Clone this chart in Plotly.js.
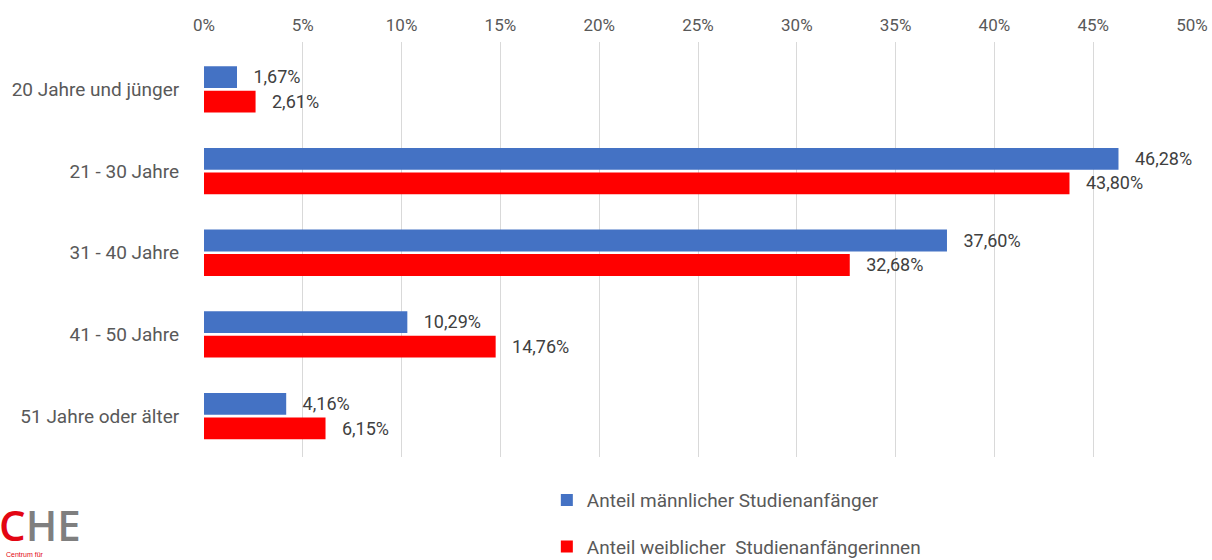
<!DOCTYPE html>
<html>
<head>
<meta charset="utf-8">
<script src="https://cdn.plot.ly/plotly-3.0.1.min.js"></script>
<style>html,body{margin:0;padding:0;background:#fff;}</style>
</head>
<body>
<div id="chart" style="width:1212px;height:560px;"></div>
<script>
const categories = ["20 Jahre und jünger", "21 - 30 Jahre", "31 - 40 Jahre", "41 - 50 Jahre", "51 Jahre oder älter"];
const maleShare = [1.67, 46.28, 37.60, 10.29, 4.16];
const femaleShare = [2.61, 43.80, 32.68, 14.76, 6.15];
const seriesNames = ["Anteil männlicher Studienanfänger", "Anteil weiblicher  Studienanfängerinnen"];
const tickValues = [0, 5, 10, 15, 20, 25, 30, 35, 40, 45, 50];
const tickLabels = tickValues.map(v => v + "%");

const FONT = "Roboto, 'DejaVu Sans', sans-serif";
const fmt = v => "\u00a0\u00a0\u00a0" + v.toFixed(2).replace(".", ",") + "%";

const traces = [
  {
    type: "bar", orientation: "h", name: seriesNames[0],
    y: categories, x: maleShare,
    marker: {color: "#4472c4"},
    text: maleShare.map(fmt), textposition: "outside", cliponaxis: false,
    textfont: {family: FONT, size: 19, color: "#404040"},
    legendgroup: "m", hoverinfo: "x"
  },
  {
    type: "bar", orientation: "h", name: seriesNames[1],
    y: categories, x: femaleShare,
    marker: {color: "#ff0000"},
    text: femaleShare.map(fmt), textposition: "outside", cliponaxis: false,
    textfont: {family: FONT, size: 19, color: "#404040"},
    legendgroup: "f", hoverinfo: "x"
  }
];

const layout = {
  width: 1212, height: 560,
  margin: {l: 204, r: 20, t: 42, b: 103, autoexpand: false},
  paper_bgcolor: "#ffffff", plot_bgcolor: "#ffffff",
  font: {family: FONT, color: "#595959", size: 17},
  barmode: "group", bargap: 0.40, bargroupgap: 0.11,
  showlegend: true,
  legend: {
    orientation: "v", x: 0.347, xanchor: "left", y: -0.058, yanchor: "top",
    traceorder: "grouped", tracegroupgap: 19,
    font: {family: FONT, size: 19, color: "#595959"},
    itemwidth: 30, bgcolor: "rgba(0,0,0,0)"
  },
  xaxis: {
    side: "top", range: [0, 50], tickvals: tickValues, ticktext: tickLabels,
    showgrid: true, gridcolor: "#d9d9d9", gridwidth: 1,
    zeroline: false, showline: false, ticks: "outside", ticklen: 3, tickcolor: "rgba(0,0,0,0)",
    tickfont: {family: FONT, size: 17, color: "#595959"},
    fixedrange: true
  },
  yaxis: {
    type: "category", range: [4.5, -0.58],
    showgrid: false, zeroline: false, showline: false, ticks: "outside", ticklen: 20, tickcolor: "rgba(0,0,0,0)",
    tickfont: {family: FONT, size: 19, color: "#595959"},
    fixedrange: true
  },
  annotations: [
    {
      xref: "paper", yref: "paper", x: -0.21, y: -0.163, xanchor: "left", yanchor: "middle",
      text: "<span style='color:#e30613'>C</span><span style='color:#7f7f7f'>HE</span>",
      showarrow: false, font: {family: "'Open Sans', 'Liberation Sans', sans-serif", size: 42, weight: 600}
    },
    {
      xref: "paper", yref: "paper", x: -0.2025, y: -0.236, xanchor: "left", yanchor: "middle",
      text: "Centrum für", showarrow: false,
      font: {family: "'Liberation Sans', Arial, sans-serif", size: 7, color: "#e30613"}
    }
  ]
};

Plotly.newPlot("chart", traces, layout, {displayModeBar: false, staticPlot: true});
</script>
</body>
</html>
